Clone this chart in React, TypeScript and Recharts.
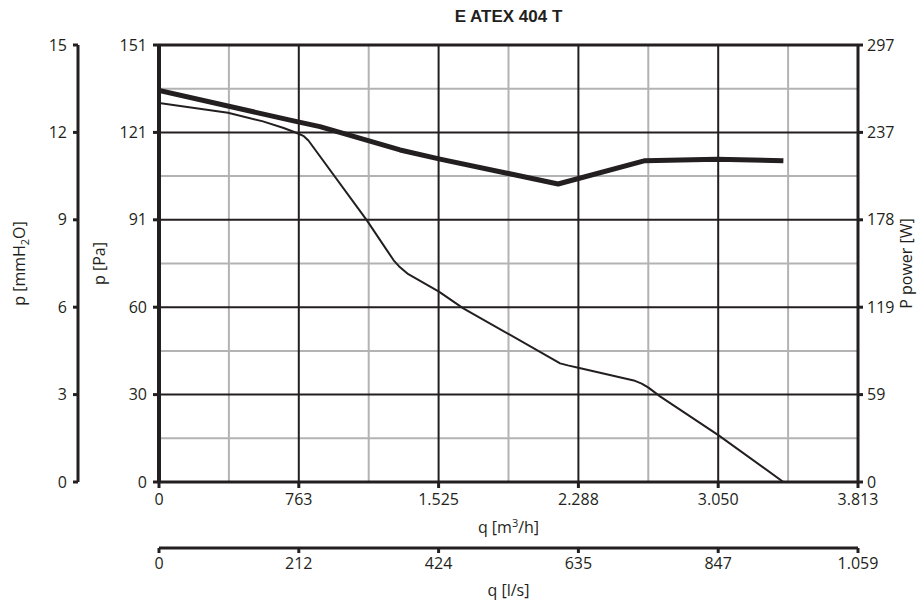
import { ComposedChart, Line, XAxis, YAxis, ReferenceLine } from 'recharts'

const INK = '#231f20'
const GRID = '#b3b3b3'
const FONT = "'Open Sans', sans-serif"

// axis ticks and their printed labels
const flowTicks = [0, 762.6, 1525.2, 2287.8, 3050.4, 3813]
const flowLabels = ['0', '763', '1.525', '2.288', '3.050', '3.813']
const lsTicks = [0, 211.8, 423.6, 635.4, 847.2, 1059]
const lsLabels = ['0', '212', '424', '635', '847', '1.059']
const paTicks = [0, 30.2, 60.4, 90.6, 120.8, 151]
const paLabels = ['0', '30', '60', '91', '121', '151']
const mmTicks = [0, 3, 6, 9, 12, 15]
const powerTicks = [0, 59.3, 118.6, 177.9, 237.2, 296.5]
const powerLabels = ['0', '59', '119', '178', '237', '297']

// pressure curve p [Pa] vs q [m3/h]
const pressureQ = [0, 376, 567, 680, 752, 790, 815, 1133, 1240, 1280, 1310, 1360, 1527, 1660,
  2150, 2188, 2230, 2287, 2590, 2633, 2670, 2733, 3051, 3406]
const pressurePa = [131, 127.6, 124.6, 122.3, 120.6, 119.5, 118, 90.5, 80.4, 76.6, 74.5, 71.8, 65.8, 60,
  42.4, 41, 40.3, 39.5, 35.1, 34, 32.6, 29.6, 16.2, 0]

// power curve P [W] vs q [m3/h]
const powerQ = [0, 752, 878, 1315, 1533, 2177, 2651, 3042, 3406]
const powerW = [265.6, 244.5, 241.1, 225.3, 219.1, 202.2, 218, 219, 218]

const pressureData = pressureQ.map((q, i) => ({ q, ls: q / 3.6, pa: pressurePa[i] }))
const powerData = powerQ.map((q, i) => ({ q, w: powerW[i] }))

const mid = (arr: number[]) => arr.slice(1).map((v, i) => (v + arr[i]) / 2)
const minorX = mid(flowTicks)
const minorY = mid(paTicks)

const tickStyle = { fill: INK, fontSize: 16, fontFamily: FONT }
const lineStyle = { stroke: INK, strokeWidth: 3 }

function vTitle(parts: any, dx: number) {
  return (props: any) => {
    const vb = props.viewBox
    const cx = vb.x + dx
    const cy = vb.y + vb.height / 2
    return (
      <text x={cx} y={cy} transform={`rotate(-90 ${cx} ${cy})`} textAnchor="middle"
        dominantBaseline="central" fill={INK} fontSize={16} fontFamily={FONT}>
        {parts}
      </text>
    )
  }
}

function hTitle(parts: any, dy: number) {
  return (props: any) => {
    const vb = props.viewBox
    return (
      <text x={vb.x + vb.width / 2} y={vb.y + dy} textAnchor="middle"
        fill={INK} fontSize={16} fontFamily={FONT}>
        {parts}
      </text>
    )
  }
}

export default function App() {
  return (
    <div style={{ position: 'absolute', left: 0, top: 0, width: 920, height: 609 }}>
      <div style={{
        position: 'absolute', left: 159, width: 699, top: 7, textAlign: 'center',
        fontFamily: "'Liberation Sans', Arial, sans-serif", fontWeight: 'bold', fontSize: 17, color: INK,
      }}>
        E ATEX 404 T
      </div>
      <ComposedChart width={920} height={609} margin={{ top: 45, right: 0, bottom: 6, left: 0 }}>
        <XAxis xAxisId="flow" dataKey="q" type="number" domain={[0, 3813]} ticks={flowTicks}
          tickFormatter={(_v: number, i: number) => flowLabels[i]} height={66}
          tick={tickStyle} tickSize={6} tickMargin={6} axisLine={lineStyle} tickLine={lineStyle}
          interval={0} allowDataOverflow
          label={{ content: hTitle(<>q [m<tspan dy={-6} fontSize={11}>3</tspan><tspan dy={6}>/h]</tspan></>, 51) }} />
        <XAxis xAxisId="ls" dataKey="ls" type="number" domain={[0, 1059]} ticks={lsTicks}
          tickFormatter={(_v: number, i: number) => lsLabels[i]} height={55}
          tick={tickStyle} tickSize={5} tickMargin={5} axisLine={lineStyle} tickLine={lineStyle}
          interval={0} allowDataOverflow
          label={{ content: hTitle('q [l/s]', 48) }} />
        <YAxis yAxisId="pa" type="number" domain={[0, 151]} ticks={paTicks} width={81}
          tickFormatter={(_v: number, i: number) => paLabels[i]}
          tick={tickStyle} tickSize={6} tickMargin={6} axisLine={{ stroke: INK, strokeWidth: 4 }} tickLine={lineStyle}
          interval={0} allowDataOverflow
          label={{ content: vTitle('p [Pa]', 21) }} />
        <YAxis yAxisId="zmm" type="number" domain={[0, 15]} ticks={mmTicks} width={78}
          tick={tickStyle} tickSize={5} tickMargin={6} axisLine={lineStyle} tickLine={lineStyle}
          interval={0} allowDataOverflow
          label={{ content: vTitle(<>p [mmH<tspan dy={5} fontSize={11}>2</tspan><tspan dy={-5}>O]</tspan></>, 19) }} />
        <YAxis yAxisId="power" orientation="right" type="number" domain={[0, 296.5]} ticks={powerTicks} width={62}
          tickFormatter={(_v: number, i: number) => powerLabels[i]}
          tick={tickStyle} tickSize={5} tickMargin={4} axisLine={lineStyle} tickLine={lineStyle}
          interval={0} allowDataOverflow
          label={{ content: vTitle('P power [W]', 48) }} />

        {minorX.map((x) => (
          <ReferenceLine key={`mx${x}`} xAxisId="flow" yAxisId="pa" x={x} stroke={GRID} strokeWidth={2} />
        ))}
        {minorY.map((y) => (
          <ReferenceLine key={`my${y}`} xAxisId="flow" yAxisId="pa" y={y} stroke={GRID} strokeWidth={2} />
        ))}
        {flowTicks.slice(1, -1).map((x) => (
          <ReferenceLine key={`x${x}`} xAxisId="flow" yAxisId="pa" x={x} stroke={INK} strokeWidth={2} />
        ))}
        {paTicks.slice(1).map((y) => (
          <ReferenceLine key={`y${y}`} xAxisId="flow" yAxisId="pa" y={y} stroke={INK} strokeWidth={y === 151 ? 3 : 2} />
        ))}

        {/* same pressure curve on the l/s scale, invisible, so that axis gets its ticks */}
        <Line xAxisId="ls" yAxisId="pa" data={pressureData} dataKey="pa" type="linear"
          stroke="none" dot={false} activeDot={false} isAnimationActive={false} />
        <Line xAxisId="flow" yAxisId="pa" data={pressureData} dataKey="pa" type="linear"
          stroke={INK} strokeWidth={2} strokeLinejoin="round" dot={false} isAnimationActive={false} />
        <Line xAxisId="flow" yAxisId="power" data={powerData} dataKey="w" type="linear"
          stroke={INK} strokeWidth={5} strokeLinejoin="round" dot={false} isAnimationActive={false} />
      </ComposedChart>
    </div>
  )
}
